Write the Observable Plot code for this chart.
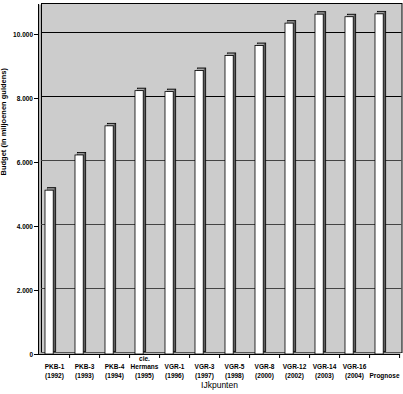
<!DOCTYPE html>
<html>
<head>
<meta charset="utf-8">
<script src="https://cdn.jsdelivr.net/npm/d3@7"></script>
<script src="https://cdn.jsdelivr.net/npm/@observablehq/plot@0.6"></script>
<style>
  html, body { margin: 0; padding: 0; background: #fff; }
  #chart svg { display: block; }
</style>
</head>
<body>
<div id="chart"></div>
<script>
const categories = ["PKB-1","PKB-3","PKB-4","cie. Hermans","VGR-1","VGR-3","VGR-5","VGR-8","VGR-12","VGR-14","VGR-16","Prognose"];
const xLabels = ["PKB-1\n(1992)","PKB-3\n(1993)","PKB-4\n(1994)","cie.\nHermans\n(1995)","VGR-1\n(1996)","VGR-3\n(1997)","VGR-5\n(1998)","VGR-8\n(2000)","VGR-12\n(2002)","VGR-14\n(2003)","VGR-16\n(2004)","Prognose"];
const budget = [5120, 6220, 7130, 8230, 8200, 8860, 9330, 9640, 10340, 10620, 10540, 10630];
const yTicks = [0, 2000, 4000, 6000, 8000, 10000];
const yTickLabels = ["0", "2.000", "4.000", "6.000", "8.000", "10.000"];
const yLabel = "Budget (in miljoenen guldens)";
const xLabel = "IJkpunten";

const data = categories.map((c, i) => ({cat: c, value: budget[i], label: xLabels[i]}));
const font = "'Liberation Sans', Arial, Helvetica, sans-serif";

const chart = Plot.plot({
  width: 403,
  height: 394,
  marginLeft: 38,
  marginRight: 3,
  marginTop: 2,
  marginBottom: 40,
  style: {fontFamily: font, background: "#fff"},
  x: {domain: categories, padding: 0, axis: null},
  y: {domain: [0, 11000], axis: null},
  marks: [
    Plot.frame({fill: "#b4b4b4", stroke: null, insetTop: 2}),
    Plot.frame({fill: "#cccccc", stroke: "#000", strokeWidth: 1, dx: 3, dy: -2, insetTop: 3, insetRight: 1.5}),
    Plot.ruleY(yTicks.filter(d => d > 0), {
      stroke: d => d >= 8000 ? "#000" : "#444", dx: 3, dy: -2, insetRight: 1.5, strokeWidth: 1
    }),
    Plot.ruleY([0], {stroke: "#555", dx: 3, dy: -2, insetRight: 1.5}),
    Plot.barY(data, {
      x: "cat", y: "value", fill: "#5e5e5e", stroke: "#000", strokeWidth: 0.8,
      insetLeft: 6, insetRight: 15.8, dx: 2.5, dy: -2.5
    }),
    Plot.tickY(data, {
      x: "cat", y: "value", stroke: "#aaaaaa", strokeWidth: 1.2,
      insetLeft: 7.5, insetRight: 15.2, dy: -1.6
    }),
    Plot.barY(data, {
      x: "cat", y: "value", fill: "#fff", stroke: "#000", strokeWidth: 0.8,
      insetLeft: 6, insetRight: 15.8
    }),
    Plot.ruleY([0], {stroke: "#000", strokeWidth: 1}),
    Plot.frame({anchor: "left", stroke: "#000", strokeWidth: 1, insetTop: 2}),
    Plot.axisY({
      ticks: yTicks,
      tickFormat: d => yTickLabels[yTicks.indexOf(d)],
      tickSize: 4, tickPadding: 1.5,
      fontSize: 6.5, fontWeight: "bold",
      label: null
    }),
    Plot.axisX({
      tickSize: 4, tickFormat: () => "", label: null,
      dx: (403 - 38 - 3) / categories.length / 2
    }),
    Plot.text(data, {
      x: "cat", text: "label", frameAnchor: "bottom", lineAnchor: "bottom",
      dy: 23, fontSize: 6.5, fontWeight: "bold", lineHeight: 1.3, fill: "#000"
    }),
    Plot.text([yLabel], {
      frameAnchor: "left", rotate: -90, dx: -35, dy: -3,
      fontSize: 7.5, fontWeight: "bold", fill: "#000"
    }),
    Plot.text([xLabel], {
      frameAnchor: "bottom", dy: 33, fontSize: 8.5, fill: "#000"
    })
  ]
});
document.getElementById("chart").appendChild(chart);
</script>
</body>
</html>
